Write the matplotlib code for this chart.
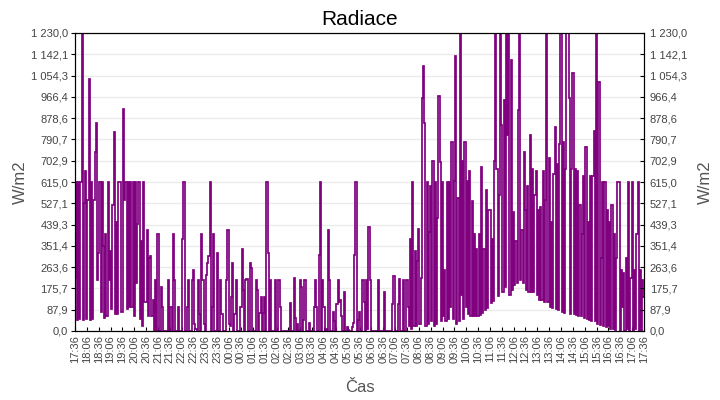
import numpy as np
import matplotlib.pyplot as plt
from matplotlib.ticker import FuncFormatter

# radiation samples, one every 3 minutes, 10 per half hour row
step_min = 3

evening = [
    220, 615, 45, 615, 50, 615, 1230, 45, 530, 660,
    50, 540, 1040, 45, 615, 50, 540, 740, 860, 210,
    320, 615, 80, 615, 350, 55, 400, 60, 615, 210,
    330, 90, 520, 820, 70, 450, 70, 615, 615, 80,
    80, 915, 540, 615, 90, 615, 100, 615, 100, 615,
    60, 615, 200, 440, 615, 50, 370, 20, 615, 120,
    120, 415, 60, 300, 310, 60, 130, 0, 210, 0,
    400, 0, 0, 180, 100, 0, 0, 0, 0, 210,
    0, 100, 0, 400, 210, 0, 0, 100, 0, 0,
    0, 380, 615, 0, 0, 100, 210, 0, 0, 210,
    250, 30, 10, 0, 210, 70, 0, 400, 210, 30,
    0, 230, 280, 310, 615, 0, 100, 400, 0, 0,
]

night = [
    320, 0, 0, 210, 70, 0, 0, 0, 210, 415,
    30, 20, 140, 280, 0, 70, 210, 0, 0, 0,
    100, 340, 170, 0, 210, 215, 0, 0, 280, 260,
    0, 0, 0, 210, 170, 0, 75, 140, 0, 75,
    140, 0, 615, 320, 0, 210, 0, 0, 0, 210,
    0, 0, 210, 100, 0, 0, 0, 0, 0, 0,
    0, 0, 115, 0, 0, 220, 55, 0, 30, 0,
    210, 180, 0, 45, 210, 0, 0, 0, 35, 0,
    0, 0, 100, 210, 100, 0, 315, 615, 0, 210,
    100, 0, 10, 0, 417, 210, 0, 0, 80, 40,
    0, 110, 210, 120, 130, 60, 0, 160, 0, 0,
    15, 5, 0, 0, 15, 35, 315, 615, 0, 45,
]

morning = [
    80, 0, 0, 210, 120, 0, 210, 10, 428, 210,
    0, 0, 0, 0, 0, 0, 210, 0, 0, 0,
    0, 160, 0, 0, 0, 0, 0, 0, 110, 225,
    0, 0, 0, 110, 215, 0, 0, 210, 0, 0,
    210, 100, 20, 380, 10, 615, 20, 330, 20, 290,
    420, 30, 220, 960, 1093, 860, 20, 615, 30, 410,
    600, 40, 700, 20, 615, 30, 466, 970, 697, 40,
    615, 60, 250, 40, 615, 50, 615, 100, 780, 50,
    620, 1135, 30, 550, 40, 1230, 150, 700, 50, 780,
    100, 620, 70, 660, 60, 538, 60, 400, 60, 340,
    60, 400, 65, 678, 75, 340, 85, 580, 95, 500,
    500, 115, 380, 125, 700, 1230, 670, 145, 560, 1230,
]

afternoon = [
    850, 160, 953, 180, 1230, 809, 1230, 150, 1118, 170,
    492, 190, 371, 200, 912, 1230, 210, 417, 200, 740,
    500, 170, 600, 160, 809, 160, 667, 160, 560, 660,
    150, 500, 130, 510, 130, 660, 120, 540, 1230, 120,
    713, 100, 450, 95, 650, 843, 90, 690, 85, 770,
    1230, 80, 780, 75, 670, 1230, 1230, 960, 70, 670,
    1064, 70, 670, 65, 660, 60, 520, 60, 400, 640,
    55, 758, 50, 450, 45, 640, 40, 640, 825, 40,
    1230, 30, 1029, 25, 300, 615, 20, 615, 15, 500,
    20, 450, 10, 520, 10, 400, 5, 300, 615, 615,
    0, 250, 100, 240, 0, 300, 10, 615, 0, 220,
    615, 0, 250, 10, 400, 615, 0, 250, 0, 210,
]

last_value = [140]

time_labels = [
    "17:36", "18:06", "18:36", "19:06", "19:36", "20:06", "20:36", "21:06",
    "21:36", "22:06", "22:36", "23:06", "23:36", "00:06", "00:36", "01:06",
    "01:36", "02:06", "02:36", "03:06", "03:36", "04:06", "04:36", "05:06",
    "05:36", "06:06", "06:36", "07:06", "07:36", "08:06", "08:36", "09:06",
    "09:36", "10:06", "10:36", "11:06", "11:36", "12:06", "12:36", "13:06",
    "13:36", "14:06", "14:36", "15:06", "15:36", "16:06", "16:36", "17:06",
    "17:36",
]

y_max = 1230.0
n_yticks = 15

values = np.array(evening + night + morning + afternoon + last_value, dtype=float)
minutes = np.arange(len(values)) * step_min
tick_pos = np.arange(len(time_labels)) * 30
y_ticks = np.linspace(0, y_max, n_yticks)


def cz_fmt(v, pos):
    s = f"{v:,.1f}"
    return s.replace(",", " ").replace(".", ",")


plt.rcParams['font.family'] = ['Liberation Sans', 'DejaVu Sans']

fig = plt.figure(figsize=(7.2, 4.0), dpi=100)
ax = fig.add_axes([0.1042, 0.1725, 0.7903, 0.745])

ax.plot(minutes, values, color='#800080', linewidth=1.25, drawstyle='steps-mid',
        solid_joinstyle='miter')

ax.set_xlim(0, tick_pos[-1])
ax.set_ylim(0, y_max)
ax.set_yticks(y_ticks)
ax.yaxis.set_major_formatter(FuncFormatter(cz_fmt))
ax.set_xticks(tick_pos)
ax.set_xticklabels(time_labels, rotation=90)
ax.grid(axis='y', color='#ebebeb', linewidth=1)
ax.set_axisbelow(True)

ax.tick_params(axis='x', direction='in', length=3, labelsize=8, labelcolor='#444444', pad=3)
ax.tick_params(axis='y', direction='out', length=3, labelsize=8, labelcolor='#444444', pad=2)

ax2 = ax.twinx()
ax2.set_ylim(0, y_max)
ax2.set_yticks(y_ticks)
ax2.yaxis.set_major_formatter(FuncFormatter(cz_fmt))
ax2.tick_params(axis='y', direction='in', length=3, labelsize=8, labelcolor='#444444', pad=4)

ax.set_title("Radiace", fontsize=15, pad=6)
ax.set_xlabel("Čas", fontsize=12, color='#555555', labelpad=12)
ax.set_ylabel("W/m2", fontsize=12, color='#555555', labelpad=2)
ax2.set_ylabel("W/m2", fontsize=12, color='#555555', labelpad=8, rotation=90)

fig.savefig("out.png", dpi=100)
